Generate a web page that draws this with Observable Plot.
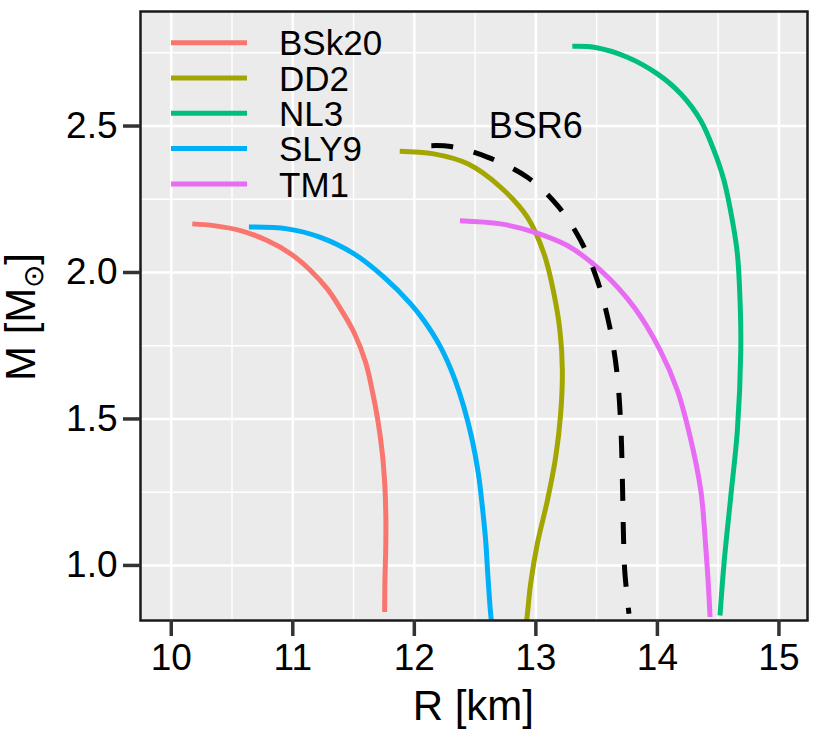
<!DOCTYPE html>
<html>
<head>
<meta charset="utf-8">
<script src="https://cdn.jsdelivr.net/npm/d3@7"></script>
<script src="https://cdn.jsdelivr.net/npm/@observablehq/plot@0.6"></script>
<style>
  html, body { margin: 0; padding: 0; background: white; }
</style>
</head>
<body>
<div id="chart"></div>
<script>
// ---- data ----
const eosNames = ["BSk20", "DD2", "NL3", "SLY9", "TM1"];
const eosColors = ["#F8766D", "#A3A500", "#00BF7D", "#00B0F6", "#E76BF3"];

const bsk20R = [10.173, 10.351, 10.570, 10.790, 10.982, 11.146, 11.284, 11.393, 11.503, 11.599, 11.648, 11.700, 11.737, 11.758, 11.766, 11.764, 11.758, 11.756];
const bsk20M = [2.166, 2.160, 2.143, 2.109, 2.064, 2.007, 1.944, 1.876, 1.796, 1.694, 1.6085, 1.495, 1.381, 1.267, 1.154, 1.040, 0.949, 0.841];

const dd2R = [11.88, 12.16, 12.44, 12.71, 12.93, 13.067, 13.149, 13.198, 13.218, 13.204, 13.163, 13.095, 13.012, 12.957, 12.924, 12.91];
const dd2M = [2.414, 2.405, 2.371, 2.291, 2.189, 2.064, 1.927, 1.802, 1.666, 1.518, 1.370, 1.222, 1.074, 0.938, 0.812, 0.78];

const nl3R = [13.300, 13.478, 13.753, 14.000, 14.192, 14.356, 14.466, 14.548, 14.617, 14.658, 14.680, 14.686, 14.658, 14.603, 14.548, 14.515];
const nl3M = [2.772, 2.769, 2.735, 2.678, 2.610, 2.519, 2.416, 2.314, 2.177, 2.064, 1.904, 1.734, 1.461, 1.233, 1.006, 0.829];

const sly9R = [10.639, 10.955, 11.228, 11.503, 11.750, 11.970, 12.079, 12.216, 12.326, 12.408, 12.477, 12.527, 12.560, 12.587, 12.606, 12.634, 12.65];
const sly9M = [2.155, 2.149, 2.120, 2.064, 1.984, 1.893, 1.836, 1.745, 1.643, 1.540, 1.427, 1.313, 1.199, 1.085, 0.960, 0.812, 0.78];

const tm1R = [12.375, 12.71, 12.984, 13.259, 13.533, 13.807, 14.023, 14.165, 14.27, 14.357, 14.398, 14.425, 14.433];
const tm1M = [2.177, 2.166, 2.138, 2.092, 2.007, 1.882, 1.734, 1.597, 1.438, 1.256, 1.062, 0.892, 0.824];

const bsr6R = [12.14, 12.299, 12.601, 12.93, 13.177, 13.369, 13.506, 13.602, 13.665, 13.698, 13.712, 13.72, 13.731, 13.766];
const bsr6M = [2.433, 2.430, 2.394, 2.325, 2.229, 2.109, 1.973, 1.825, 1.666, 1.484, 1.290, 1.119, 0.983, 0.835];

const bsr6Label = [{R: 13, M: 2.5, text: "BSR6"}];

const xTicks = [10, 11, 12, 13, 14, 15];
const xMinor = [10.5, 11.5, 12.5, 13.5, 14.5];
const yTicks = [1.0, 1.5, 2.0, 2.5];
const yMinor = [1.25, 1.75, 2.25, 2.75];

// ---- build table ----
const seriesR = [bsk20R, dd2R, nl3R, sly9R, tm1R];
const seriesM = [bsk20M, dd2M, nl3M, sly9M, tm1M];
const rows = [];
eosNames.forEach((name, i) => {
  seriesR[i].forEach((r, j) => rows.push({eos: name, R: r, M: seriesM[i][j]}));
});
const bsr6 = bsr6R.map((r, j) => ({R: r, M: bsr6M[j]}));

const font = "'Liberation Sans', Arial, Helvetica, sans-serif";

const chart = Plot.plot({
  width: 830,
  height: 746,
  marginLeft: 140,
  marginRight: 23,
  marginTop: 11,
  marginBottom: 126,
  style: {fontFamily: font, background: "white", color: "black"},
  x: {domain: [9.747, 15.235], label: null},
  y: {domain: [0.812, 2.891], label: null},
  color: {domain: eosNames, range: eosColors},
  marks: [
    Plot.frame({fill: "#EBEBEB", stroke: null}),
    Plot.ruleX(xMinor, {stroke: "white", strokeWidth: 1.4}),
    Plot.ruleY(yMinor, {stroke: "white", strokeWidth: 1.4}),
    Plot.ruleX(xTicks, {stroke: "white", strokeWidth: 2.6}),
    Plot.ruleY(yTicks, {stroke: "white", strokeWidth: 2.6}),
    Plot.line(rows, {x: "R", y: "M", z: "eos", stroke: "eos", strokeWidth: 5,
      curve: "catmull-rom", strokeLinecap: "butt", clip: true}),
    Plot.line(bsr6, {x: "R", y: "M", stroke: "black", strokeWidth: 5,
      strokeDasharray: "22,21", curve: "catmull-rom", strokeLinecap: "butt", clip: true}),
    Plot.text(bsr6Label, {x: "R", y: "M", text: "text", fontSize: 36, fill: "black",
      textAnchor: "middle", lineAnchor: "middle"}),
    Plot.frame({stroke: "#1a1a1a", strokeWidth: 2.5}),
    Plot.axisX({ticks: xTicks, tickSize: 16, tickPadding: 7, fontSize: 37,
      tickFormat: d3.format("d"),
      stroke: "#333", strokeWidth: 3.5, fill: "black", label: null}),
    Plot.axisY({ticks: yTicks, tickSize: 17, tickPadding: 6, fontSize: 37,
      tickFormat: d3.format(".1f"), stroke: "#333", strokeWidth: 3.5, fill: "black", label: null})
  ]
});

document.getElementById("chart").appendChild(chart);

// ---- legend and axis titles ----
const svg = d3.select(chart);
const legend = svg.append("g").attr("font-family", font).attr("text-anchor", "start");
const rowY0 = 42.7, rowStep = 35.3;
eosNames.forEach((name, i) => {
  const y = rowY0 + i * rowStep;
  legend.append("line")
    .attr("x1", 171).attr("x2", 247).attr("y1", y).attr("y2", y)
    .attr("stroke", eosColors[i]).attr("stroke-width", 5);
  legend.append("text")
    .attr("x", 279).attr("y", y).attr("dy", "0.36em")
    .attr("text-anchor", "start")
    .attr("font-size", 35).attr("fill", "black")
    .text(name);
});

svg.append("text")
  .attr("x", 473.3).attr("y", 720)
  .attr("text-anchor", "middle")
  .attr("font-family", font).attr("font-size", 42).attr("fill", "black")
  .text("R [km]");

const yt = svg.append("text")
  .attr("transform", "translate(35,317) rotate(-90)")
  .attr("text-anchor", "middle")
  .attr("font-family", font).attr("font-size", 42).attr("fill", "black");
yt.append("tspan").text("M [M");
yt.append("tspan").attr("font-size", 28).attr("dy", 8).text("\u2299");
yt.append("tspan").attr("font-size", 42).attr("dy", -8).text("]");
</script>
</body>
</html>
